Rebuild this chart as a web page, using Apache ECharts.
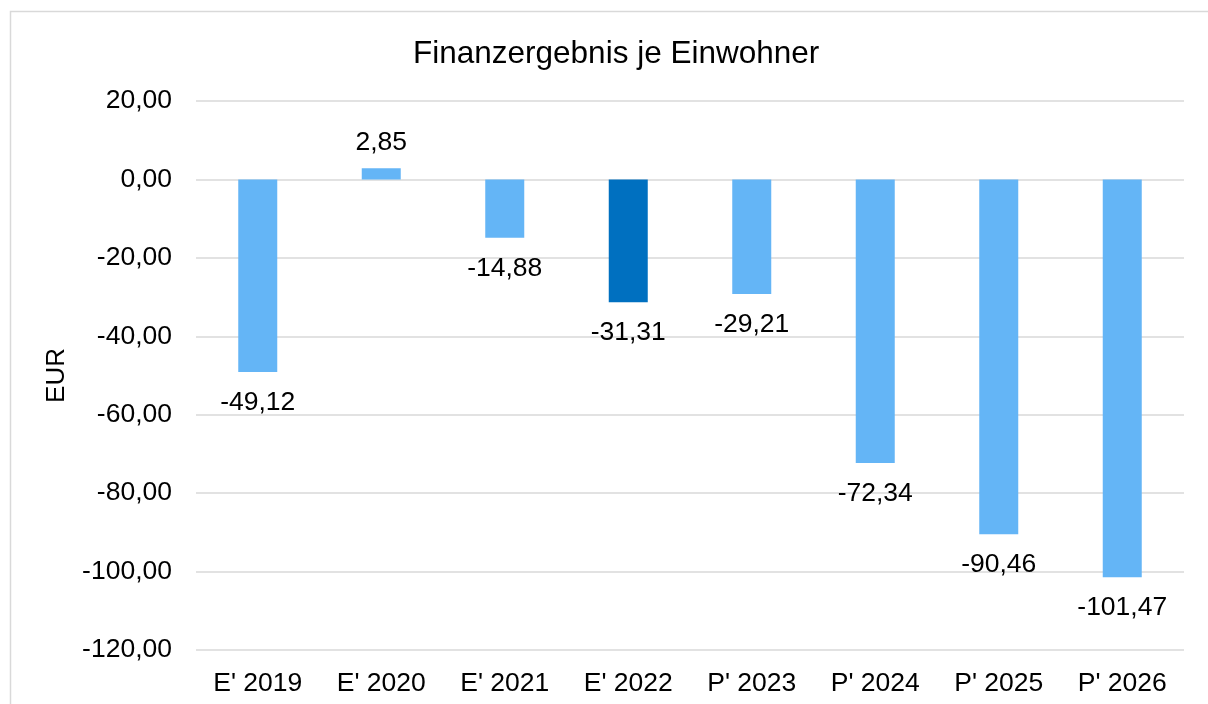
<!DOCTYPE html>
<html>
<head>
<meta charset="utf-8">
<title>Finanzergebnis je Einwohner</title>
<script src="https://cdn.jsdelivr.net/npm/echarts@6/dist/echarts.min.js"></script>
<style>
  html, body { margin: 0; padding: 0; background: #fff; }
  #chart { width: 1208px; height: 704px; }
</style>
</head>
<body>
<div id="chart"></div>
<script>
// Daten aus dem Diagramm
const categories = ["E' 2019", "E' 2020", "E' 2021", "E' 2022", "P' 2023", "P' 2024", "P' 2025", "P' 2026"];
const values = [-49.12, 2.85, -14.88, -31.31, -29.21, -72.34, -90.46, -101.47];
const highlightIndex = 3; // E' 2022 dunkler

const fontFamily = "'Liberation Sans', Arial, sans-serif";
const fmt = (v) => v.toFixed(2).replace(".", ",");

const chart = echarts.init(document.getElementById("chart"));

// positive Werte: Label oben, negative: unten
const barData = values.map((v, i) => ({
  value: v,
  itemStyle: { color: i === highlightIndex ? "#0070c0" : "#64b5f6" },
  label: v >= 0 ? { position: "top", distance: 12 } : { position: "bottom", distance: 17 },
}));

const option = {
  animation: false,
  textStyle: { fontFamily: fontFamily },
  title: {
    text: "Finanzergebnis je Einwohner",
    left: 408,
    top: 33,
    textStyle: { fontSize: 31.5, fontWeight: "normal", color: "#000", fontFamily: fontFamily },
  },
  graphic: [
    {
      type: "rect",
      shape: { x: 10.5, y: 11.5, width: 1300, height: 800 },
      style: { fill: "none", stroke: "#d9d9d9", lineWidth: 1.5 },
      silent: true,
    },
  ],
  grid: { left: 196, right: 24, top: 101, bottom: 54 },
  xAxis: {
    type: "category",
    data: categories,
    axisLine: { show: false, onZero: false },
    axisTick: { show: false },
    axisLabel: { fontSize: 26.5, color: "#000", margin: 20, fontFamily: fontFamily },
  },
  yAxis: {
    type: "value",
    min: -120,
    max: 20,
    interval: 20,
    name: "EUR",
    nameLocation: "middle",
    nameGap: 126,
    nameTextStyle: { fontSize: 26, color: "#000", fontFamily: fontFamily },
    axisLine: { show: false },
    axisTick: { show: false },
    axisLabel: { fontSize: 26.5, color: "#000", margin: 24, formatter: fmt, fontFamily: fontFamily },
    splitLine: { lineStyle: { color: "#d9d9d9", width: 1.5 } },
  },
  series: [
    {
      type: "bar",
      data: barData,
      barWidth: 39,
      label: {
        show: true,
        fontSize: 26.5,
        color: "#000",
        fontFamily: fontFamily,
        formatter: (p) => fmt(p.value),
      },
    },
  ],
};

chart.setOption(option);
</script>
</body>
</html>
